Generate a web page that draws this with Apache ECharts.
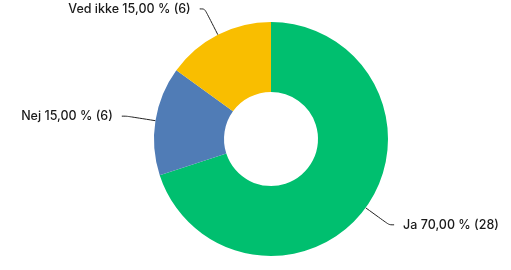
<!DOCTYPE html>
<html><head><meta charset="utf-8">
<script src="https://cdn.jsdelivr.net/npm/echarts@6/dist/echarts.min.js"></script>
<style>html,body{margin:0;padding:0;background:#fff}#c{width:511px;height:270px}</style>
</head><body><div id="c"></div>
<script>
const categories = ['Ja', 'Nej', 'Ved ikke'];
const counts = [28, 6, 6];
const colors = ['#00BF6F', '#507CB6', '#F9BE00'];

const total = counts.reduce((a, b) => a + b, 0);
const chart = echarts.init(document.getElementById('c'));
chart.setOption({
  animation: false,
  series: [{
    type: 'pie',
    center: [271, 139],
    radius: [47, 117],
    startAngle: 90,
    clockwise: true,
    avoidLabelOverlap: false,
    data: categories.map((n, i) => ({ name: n, value: counts[i], itemStyle: { color: colors[i] } })),
    label: {
      show: true,
      position: 'outside',
      color: '#1a1a1a',
      fontFamily: 'Inter',
      fontSize: 12.5,
      fontWeight: 500,
      distanceToLabelLine: 9,
      formatter: p => p.name + ' ' + (p.value / total * 100).toFixed(2).replace('.', ',') + ' % (' + p.value + ')'
    },
    labelLine: {
      show: true,
      length: 29,
      length2: 5,
      smooth: 0.3,
      lineStyle: { color: '#222', width: 1 }
    },
    itemStyle: { borderWidth: 0 }
  }]
});
</script></body></html>
